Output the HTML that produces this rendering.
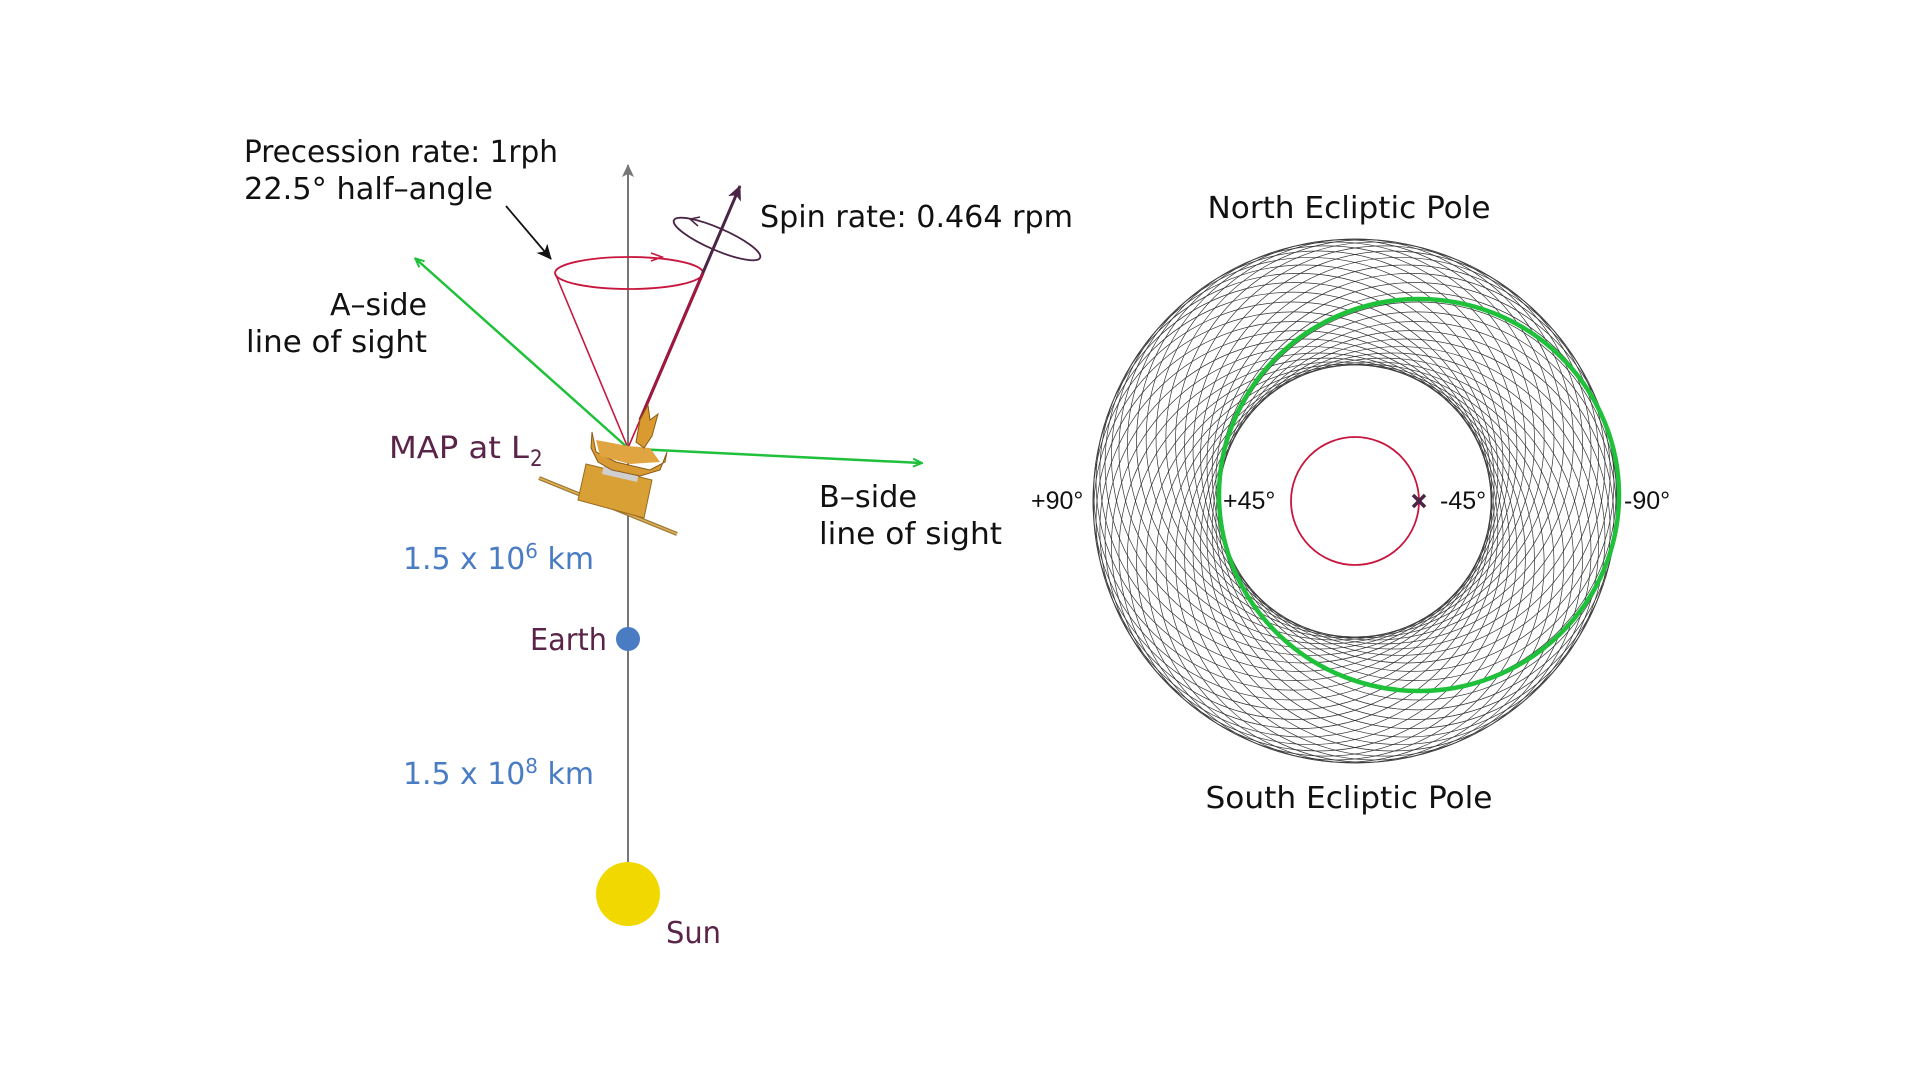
<!DOCTYPE html>
<html><head><meta charset="utf-8"><style>
html,body{margin:0;padding:0;background:#fff;}
svg{display:block;}
.t{font-family:"Liberation Sans Narrow","DejaVu Sans Condensed","Liberation Sans",sans-serif;font-size:30px;fill:#111;}
.s{font-family:"Liberation Sans",sans-serif;font-size:25px;fill:#111;}
</style></head><body>
<svg id="sv" width="1920" height="1080" viewBox="0 0 1920 1080" xmlns="http://www.w3.org/2000/svg">
<defs>
<marker id="ag" markerWidth="10" markerHeight="10" refX="8" refY="5" orient="auto" markerUnits="userSpaceOnUse"><path d="M0,1 L9,5 L0,9" fill="none" stroke="#1fc03a" stroke-width="2"/></marker>
<marker id="ak" markerWidth="16" markerHeight="14" refX="14" refY="7" orient="auto" markerUnits="userSpaceOnUse"><path d="M0,0 L15,7 L0,14 L4,7z" fill="#111"/></marker>
<marker id="ap" markerWidth="16" markerHeight="14" refX="14" refY="7" orient="auto" markerUnits="userSpaceOnUse"><path d="M0,0 L15,7 L0,14 L4,7z" fill="#4a2545"/></marker>
<marker id="ay" markerWidth="14" markerHeight="12" refX="12" refY="6" orient="auto" markerUnits="userSpaceOnUse"><path d="M0,0 L13,6 L0,12 L3,6z" fill="#777"/></marker>
</defs>
<line x1="628" y1="880" x2="628" y2="165" stroke="#777" stroke-width="2" marker-end="url(#ay)"/>
<circle cx="628" cy="894" r="32" fill="#f1d900"/>
<circle cx="628" cy="639" r="12" fill="#4a7cc4"/>
<path d="M555,273 L628,448 L703,273" fill="none" stroke="#c8173f" stroke-width="1.6"/>
<ellipse cx="629" cy="273" rx="74" ry="16" fill="none" stroke="#c8173f" stroke-width="1.8"/>
<path d="M651,253 L662,257 L651,261" fill="none" stroke="#c8173f" stroke-width="1.6"/>
<line x1="640" y1="420" x2="740" y2="186" stroke="#4a2545" stroke-width="3" marker-end="url(#ap)"/>
<line x1="640" y1="420" x2="703" y2="273" stroke="#a0173f" stroke-width="3"/>
<ellipse cx="717" cy="239" rx="47" ry="11" transform="rotate(23.5 717 239)" fill="none" stroke="#4a2545" stroke-width="1.8"/>
<path d="M700,217 L690,219 L698,226" fill="none" stroke="#4a2545" stroke-width="1.5"/>
<line x1="506" y1="206" x2="551" y2="259" stroke="#111" stroke-width="1.8" marker-end="url(#ak)"/>
<line x1="628" y1="448" x2="416" y2="259" stroke="#1fc03a" stroke-width="2.5" marker-end="url(#ag)"/>
<line x1="636" y1="449" x2="921" y2="463" stroke="#1fc03a" stroke-width="2.5" marker-end="url(#ag)"/>
<g>
<line x1="539" y1="478" x2="677" y2="534" stroke="#9a7a3a" stroke-width="4"/>
<line x1="539" y1="478" x2="677" y2="534" stroke="#e0b050" stroke-width="1.5"/>
<path d="M586,464 L652,480 L644,518 L578,500z" fill="#d9a035" stroke="#9a6a20" stroke-width="1"/>
<path d="M605,460 L640,468 L637,482 L602,474z" fill="#cfcfcf"/>
<path d="M592,432 L596,452 L616,462 L650,470 L665,462 L667,452 L660,470 L640,476 L612,470 L598,462 L591,448z" fill="#d89a35" stroke="#8a5a15" stroke-width="1"/>
<path d="M596,440 L600,456 L630,464 L660,462 L650,448 L628,446z" fill="#e0a540"/>
<path d="M636,442 L640,420 L648,405 L650,420 L658,414 L652,436 L644,448z" fill="#d99a30" stroke="#8a5a15" stroke-width="1"/>
</g>
<text class="t" x="244" y="162" textLength="314" lengthAdjust="spacingAndGlyphs">Precession rate: 1rph</text>
<text class="t" x="244" y="199" textLength="249" lengthAdjust="spacingAndGlyphs">22.5° half–angle</text>
<text class="t" x="760" y="227" textLength="313" lengthAdjust="spacingAndGlyphs">Spin rate: 0.464 rpm</text>
<text class="t" x="427" y="315" text-anchor="end" textLength="97" lengthAdjust="spacingAndGlyphs">A–side</text>
<text class="t" x="246" y="352" textLength="181" lengthAdjust="spacingAndGlyphs">line of sight</text>
<text class="t" x="389" y="458" style="fill:#5a2448" textLength="140" lengthAdjust="spacingAndGlyphs">MAP at L</text>
<text class="t" x="530" y="466" style="fill:#5a2448;font-size:22px">2</text>
<text class="t" x="819" y="507" textLength="98" lengthAdjust="spacingAndGlyphs">B–side</text>
<text class="t" x="819" y="544" textLength="183" lengthAdjust="spacingAndGlyphs">line of sight</text>
<text class="t" x="403" y="569" style="fill:#4a7cc4" textLength="191" lengthAdjust="spacingAndGlyphs">1.5 x 10<tspan dy="-11" font-size="20">6</tspan><tspan dy="11"> km</tspan></text>
<text class="t" x="607" y="650" text-anchor="end" style="fill:#5a2448" textLength="77" lengthAdjust="spacingAndGlyphs">Earth</text>
<text class="t" x="403" y="784" style="fill:#4a7cc4" textLength="191" lengthAdjust="spacingAndGlyphs">1.5 x 10<tspan dy="-11" font-size="20">8</tspan><tspan dy="11"> km</tspan></text>
<text class="t" x="666" y="943" style="fill:#5a2448" textLength="55" lengthAdjust="spacingAndGlyphs">Sun</text>
<g id="ring" fill="none" stroke="#333" stroke-width="0.7"></g>
<circle cx="1355" cy="501" r="262" fill="none" stroke="#444" stroke-width="0.8"/>
<circle cx="1355" cy="501" r="136" fill="none" stroke="#444" stroke-width="0.8"/>
<ellipse cx="1419" cy="495" rx="200" ry="196" fill="none" stroke="#1fc03a" stroke-width="4.5"/>
<circle cx="1355" cy="501" r="64" fill="none" stroke="#c8173f" stroke-width="1.8"/>
<path d="M1413,495 L1425,507 M1425,495 L1413,507" stroke="#4a2545" stroke-width="3.5"/>
<text class="t" x="1349" y="218" text-anchor="middle" textLength="283" lengthAdjust="spacingAndGlyphs">North Ecliptic Pole</text>
<text class="t" x="1349" y="808" text-anchor="middle" textLength="287" lengthAdjust="spacingAndGlyphs">South Ecliptic Pole</text>
<text class="s" x="1031" y="509">+90°</text>
<text class="s" x="1223" y="509">+45°</text>
<text class="s" x="1440" y="509">-45°</text>
<text class="s" x="1624" y="509">-90°</text>
</svg>
<script>
var g=document.getElementById('ring'),ns='http://www.w3.org/2000/svg',N=40;
for(var i=0;i<N;i++){var a=2*Math.PI*i/N,c=document.createElementNS(ns,'circle');
c.setAttribute('cx',1355+63*Math.cos(a));c.setAttribute('cy',501+63*Math.sin(a));c.setAttribute('r',199);g.appendChild(c);}
</script>
</body></html>
